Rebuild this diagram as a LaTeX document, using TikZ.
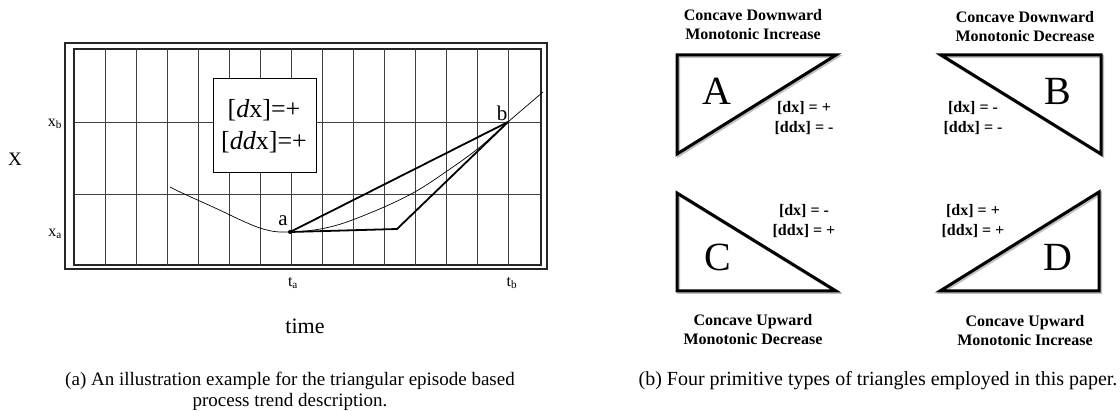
\documentclass[tikz,border=0pt]{standalone}
\usepackage{fontspec}
\setmainfont{Liberation Serif}
\begin{document}
\begin{tikzpicture}[x=1pt,y=-1pt,
  gridline/.style={line width=0.7pt, black!75},
  gframe/.style={line width=1.1pt, black!85},
  boldline/.style={line width=1.8pt, line join=round},
  tcurve/.style={line width=0.7pt},
  tri/.style={line width=3pt, line join=miter, miter limit=20},
  trishadow/.style={line width=3pt, black!25, line join=miter, miter limit=20},
  ttl/.style={font=\fontsize{16}{19}\selectfont\bfseries, align=center, inner sep=0pt},
  sgn/.style={font=\fontsize{16}{20}\selectfont\bfseries, align=center, inner sep=0pt},
  bigletter/.style={font=\fontsize{40}{40}\selectfont, inner sep=0pt},
  captxt/.style={font=\fontsize{19}{19.5}\selectfont, align=center, inner sep=0pt},
  axl/.style={font=\fontsize{16}{16}\selectfont, inner sep=0pt},
  ptlabel/.style={font=\fontsize{21}{21}\selectfont, inner sep=0pt}]
\useasboundingbox (0,0) rectangle (1120,411);

% ---------- left panel ----------
\draw[gframe] (65,43) rectangle (547,269);
\draw[gframe] (74,49) rectangle (541,265);
\foreach \k in {1,...,14} {
  \draw[gridline] ({74+31*\k},49) -- ({74+31*\k},265);
}
\draw[gridline] (74,122) -- (541,122);
\draw[gridline] (74,194) -- (541,194);

\node[draw, fill=white, line width=0.8pt, minimum width=103pt, minimum height=94pt, inner sep=0pt] (box) at (264.5,125) {};
\node[font=\fontsize{26}{32}\selectfont, align=center, inner sep=0pt] (boxtxt) at (264,126) {[\textit{d}x]=+\\{}[\textit{dd}x]=+};

\coordinate (a) at (290,232);
\coordinate (b) at (508,122);
\coordinate (k) at (397,229);
\draw[tcurve] plot[smooth, tension=0.6] coordinates {(170,187) (180,192) (213,207) (260,228) (290,232) (330,227) (370,213) (413,193) (450,169) (480,147) (508,122) (543,92)};
\draw[boldline] (a) -- (b);
\draw[boldline] (a) -- (k) -- (b);
\fill (a) circle (2pt);

\node[ptlabel] (la) at (283,221) {a};
\node[ptlabel] (lb) at (502,113) {b};
\node[axl, font=\fontsize{19}{19}\selectfont] (X) at (15,159) {X};
\node[axl] (xb) at (55,124) {x\textsubscript{b}};
\node[axl] (xa) at (55,234) {x\textsubscript{a}};
\node[axl] (ta) at (293,283) {t\textsubscript{a}};
\node[axl] (tb) at (512,283) {t\textsubscript{b}};
\node[font=\fontsize{22}{22}\selectfont, inner sep=0pt] (time) at (305,326) {time};

\node[captxt, font=\fontsize{19}{21}\selectfont] (capa) at (290,391) {(a) An illustration example for the triangular episode based\\process trend description.};

% ---------- right panel ----------
\begin{scope}[shift={(1.5,1.5)}]
\draw[trishadow] (677,55) -- (836,55) -- (677,154) -- cycle;
\draw[trishadow] (1101,55) -- (941,55) -- (1101,154) -- cycle;
\draw[trishadow] (677,193) -- (677,291) -- (836,291) -- cycle;
\draw[trishadow] (1099,192) -- (1099,291) -- (940,291) -- cycle;
\end{scope}
\draw[tri] (677,55) -- (836,55) -- (677,154) -- cycle;
\draw[tri] (1101,55) -- (941,55) -- (1101,154) -- cycle;
\draw[tri] (677,193) -- (677,291) -- (836,291) -- cycle;
\draw[tri] (1099,192) -- (1099,291) -- (940,291) -- cycle;

\node[bigletter] (A) at (717,91) {A};
\node[bigletter] (B) at (1058,91) {B};
\node[bigletter] (C) at (718,257) {C};
\node[bigletter] (D) at (1058,257) {D};

\node[ttl] (tA) at (753,25) {Concave Downward\\Monotonic Increase};
\node[ttl] (tB) at (1025,27) {Concave Downward\\Monotonic Decrease};
\node[ttl] (tC) at (753,330) {Concave Upward\\Monotonic Decrease};
\node[ttl] (tD) at (1025,331) {Concave Upward\\Monotonic Increase};

\node[sgn] (sA) at (804,118) {[dx] = +\\{}[ddx] = -};
\node[sgn] (sB) at (973,118) {[dx] = -\\{}[ddx] = -};
\node[sgn] (sC) at (804,221) {[dx] = -\\{}[ddx] = +};
\node[sgn] (sD) at (973,221) {[dx] = +\\{}[ddx] = +};

\node[captxt, font=\fontsize{20}{20}\selectfont] (capb) at (878,381) {(b) Four primitive types of triangles employed in this paper.};
\end{tikzpicture}
\end{document}
